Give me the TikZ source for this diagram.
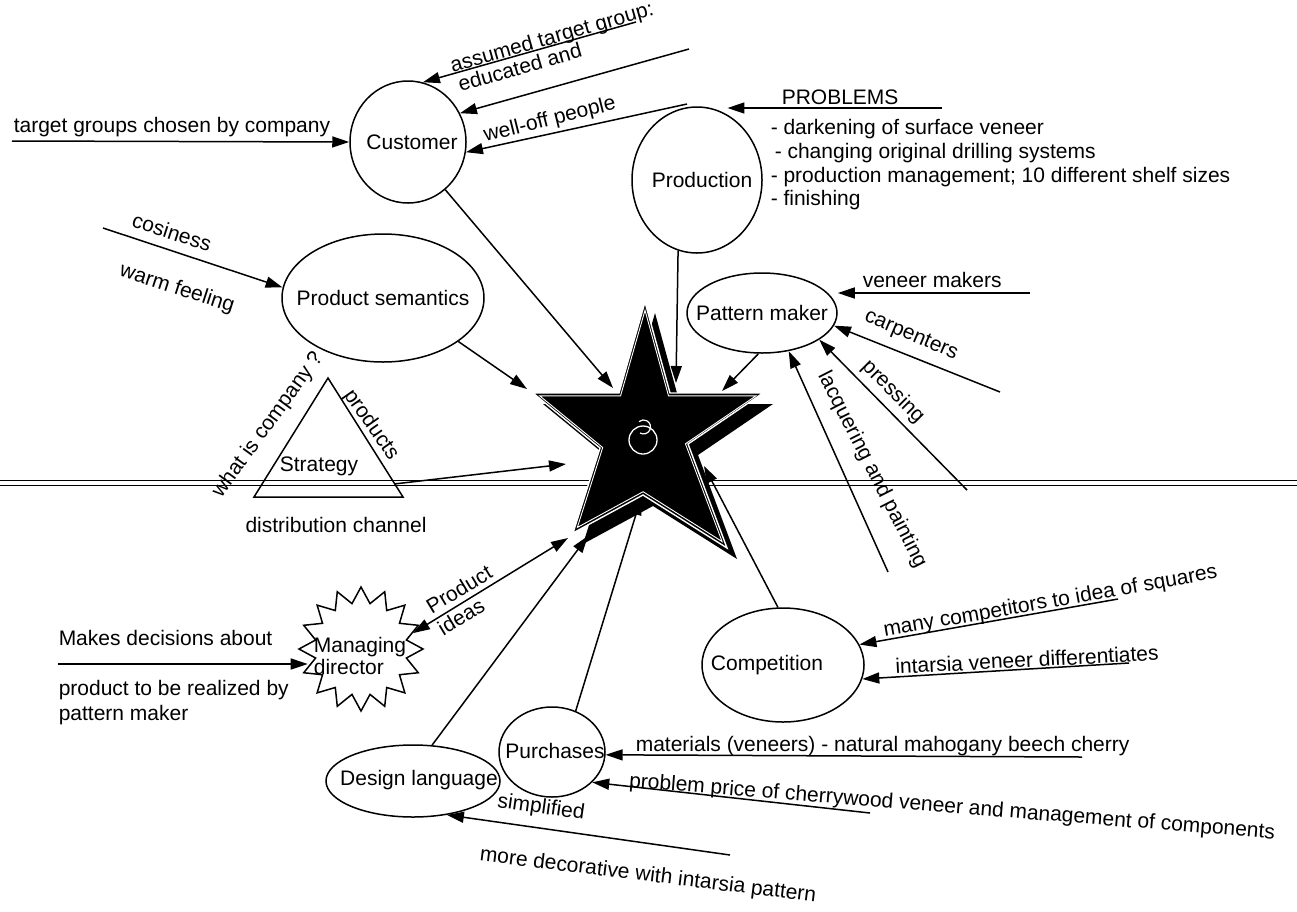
\documentclass[tikz,border=0pt]{standalone}
\usepackage{fontspec}
\setmainfont{Liberation Sans}
\usetikzlibrary{arrows.meta,shapes.geometric,calc}
\begin{document}
\begin{tikzpicture}[x=1pt,y=-1pt,
  font=\fontsize{21}{24}\selectfont,
  line width=1.5pt,
  tip/.style={-{Triangle[length=17pt,width=11pt]}},
  both/.style={{Triangle[length=17pt,width=11pt]}-{Triangle[length=17pt,width=11pt]}},
  bub/.style={draw, ellipse, inner sep=0pt},
  txt/.style={inner sep=0pt},
  lt/.style={inner sep=0pt, anchor=base west}]
\useasboundingbox (0,0) rectangle (1297,911);

% fold across the sheet
\draw[line width=1pt] (0,480) -- (1297,480) (0,485) -- (1297,485);

% central star: shadow, body, inner outline, emblem
\begin{scope}[shift={(10,11)}]
  \fill (645,302) -- (670,393) -- (763,393) -- (688,444) -- (727,548) -- (643,495)
        -- (573,533) -- (600,448) -- (533,393) -- (619,393) -- cycle;
\end{scope}
\filldraw[fill=black, draw=white, line width=1.4pt, line join=miter]
  (645,302) -- (670,393) -- (763,393) -- (688,444) -- (727,548) -- (643,495)
  -- (573,533) -- (600,448) -- (533,393) -- (619,393) -- cycle;
\begin{scope}[shift={(645,440)}, scale=0.94, shift={(-645,-440)}]
  \draw[white, line width=0.9pt, line join=miter]
  (645,302) -- (670,393) -- (763,393) -- (688,444) -- (727,548) -- (643,495)
  -- (573,533) -- (600,448) -- (533,393) -- (619,393) -- cycle;
\end{scope}
\draw[white, line width=1.3pt] (643,440) circle [radius=14];
\draw[white, line width=1.2pt] (640,433) arc [start angle=120, end angle=-130, radius=7];

% bubbles
\node[bub, minimum width=116, minimum height=122] (cust) at (408,142) {};
\node[txt] (custt) at (412,142) {Customer};
\node[bub, minimum width=130, minimum height=146] (prod) at (697,180) {};
\node[txt] (prodt) at (702,180) {Production};
\node[bub, minimum width=202, minimum height=128] (sem) at (383,298) {};
\node[txt] (semt) at (sem) {Product semantics};
\node[bub, minimum width=150, minimum height=80] (pat) at (762,313) {};
\node[txt] (patt) at (pat) {Pattern maker};
\node[bub, minimum width=162, minimum height=114] (comp) at (783,665) {};
\node[txt] (compt) at (767,665) {Competition};
\node[bub, minimum width=106, minimum height=90] (pur) at (552,752) {};
\node[txt] (purt) at (555,751) {Purchases};
\node[bub, minimum width=174, minimum height=72] (dl) at (413,781) {};
\node[txt] (dlt) at (419,780) {Design language};

% strategy triangle
\coordinate (ta) at (328,378);
\coordinate (tb) at (254,497);
\coordinate (tc) at (403,497);
\draw[line join=miter] (ta) -- (tb) -- (tc) -- cycle;
\node[txt] (strat) at (319,466) {Strategy};
\node[txt, rotate=54] (wic) at (268,425) {what is company ?};
\node[txt, rotate=-55] (prods) at (371,425) {products};
\node[txt] (dch) at (336,525) {distribution channel};

% managing director
\node[draw, star, star points=16, star point ratio=1.34, minimum size=124, inner sep=0pt] (md) at (361,649) {};
\node[txt, align=left] (mdt) at (360,656) {Managing\\[-2pt]director};

% points on the star
\coordinate (sa) at (613,388);
\coordinate (sb) at (676,383);
\coordinate (sc) at (722,391);
\coordinate (sd) at (527,389);
\coordinate (se) at (566,464);
\coordinate (sf) at (568,538);
\coordinate (sg) at (588,536);
\coordinate (sh) at (641,498);
\coordinate (si) at (704,466);

% links to the star
\draw[tip] (cust.-52) -- (sa);
\draw[tip] (prod.-105) -- (sb);
\draw[tip] (pat.-95) -- (sc);
\draw[tip] (sem.-30) -- (sd);
\draw[tip] ($(ta)!0.89!(tc)$) -- (se);
\draw[both] (md.17) -- (sf);
\draw[tip] (dl.62) -- (sg);
\draw[tip] (pur.60) -- (sh);
\draw[tip] (comp.95) -- (si);

% customer inputs
\coordinate (tg0) at (12,141);
\coordinate (as0) at (636,22);
\coordinate (ed0) at (689,49);
\coordinate (wo0) at (687,104);
\draw[tip] (tg0) -- (cust.west);
\draw[tip] (as0) -- (cust.76);
\draw[tip] (ed0) -- (cust.29);
\draw[tip] (wo0) -- (cust.-10);
\node[lt] (ltg) at (13,132) {target groups chosen by company};
\node[lt, rotate=16] (las) at (452,73) {assumed target group:};
\node[lt, rotate=16] (led) at (460,92) {educated and};
\node[lt, rotate=14] (lwo) at (485,142) {well-off people};

% production problems
\coordinate (pb0) at (942,108);
\draw[tip] (pb0) -- (pb0 -| prod.65);
\node[lt] (lpb) at (781,104) {PROBLEMS};
\node[lt] (lp1) at (770,134) {- darkening of surface veneer};
\node[lt] (lp2) at (774,158) {- changing original drilling systems};
\node[lt] (lp3) at (770,182) {- production management; 10 different shelf sizes};
\node[lt] (lp4) at (770,205) {- finishing};

% product semantics
\coordinate (cs0) at (103,228);
\draw[tip] (cs0) -- (sem.174);
\node[txt, rotate=-18] (lcs) at (172,232) {cosiness};
\node[txt, rotate=-18] (lwf) at (177,289) {warm feeling};

% pattern maker inputs
\coordinate (vm0) at (1030,293);
\coordinate (cp0) at (1000,392);
\coordinate (pr0) at (967,490);
\coordinate (lq0) at (888,572);
\draw[tip] (vm0) -- (vm0 -| pat.east);
\draw[tip] (cp0) -- (pat.-10);
\draw[tip] (pr0) -- (pat.-25);
\draw[tip] (lq0) -- (pat.-55);
\node[lt] (lvm) at (862,287) {veneer makers};
\node[txt, rotate=-23] (lcp) at (911,336) {carpenters};
\node[txt, rotate=-45] (lpr) at (893,392) {pressing};
\node[txt, rotate=-63] (llq) at (872,470) {lacquering and painting};

% managing director input
\coordinate (mk0) at (58,664);
\draw[tip] (mk0) -- (mk0 -| md.186);
\node[lt] (lmk1) at (58,645) {Makes decisions about};
\node[lt] (lmk2) at (58,695) {product to be realized by};
\node[lt] (lmk3) at (58,720) {pattern maker};
\node[txt, rotate=31] (lpi1) at (459,589) {Product};
\node[txt, rotate=31] (lpi2) at (461,617) {ideas};

% competition inputs
\coordinate (mc0) at (1118,599);
\coordinate (iv0) at (1129,663);
\draw[tip] (mc0) -- (comp.15);
\draw[tip] (iv0) -- (comp.-10);
\node[lt, rotate=10] (lmc) at (884,637) {many competitors to idea of squares};
\node[lt, rotate=3] (liv) at (895,674) {intarsia veneer differentiates};

% purchases inputs
\coordinate (mt0) at (1082,757);
\coordinate (pp0) at (870,813);
\draw[tip] (mt0) -- (pur.-3);
\draw[tip] (pp0) -- (pur.-37);
\node[lt] (lmt) at (635,751) {materials (veneers) - natural mahogany beech cherry};
\node[lt, rotate=-4.6] (lpp) at (628,787) {problem price of cherrywood veneer and management of components};

% design language input
\coordinate (dd0) at (730,855);
\draw[tip] (dd0) -- (dl.-45);
\node[txt, rotate=-8] (lsi) at (541,808) {simplified};
\node[txt, rotate=-7] (lmd) at (648,876) {more decorative with intarsia pattern};
\end{tikzpicture}
\end{document}
